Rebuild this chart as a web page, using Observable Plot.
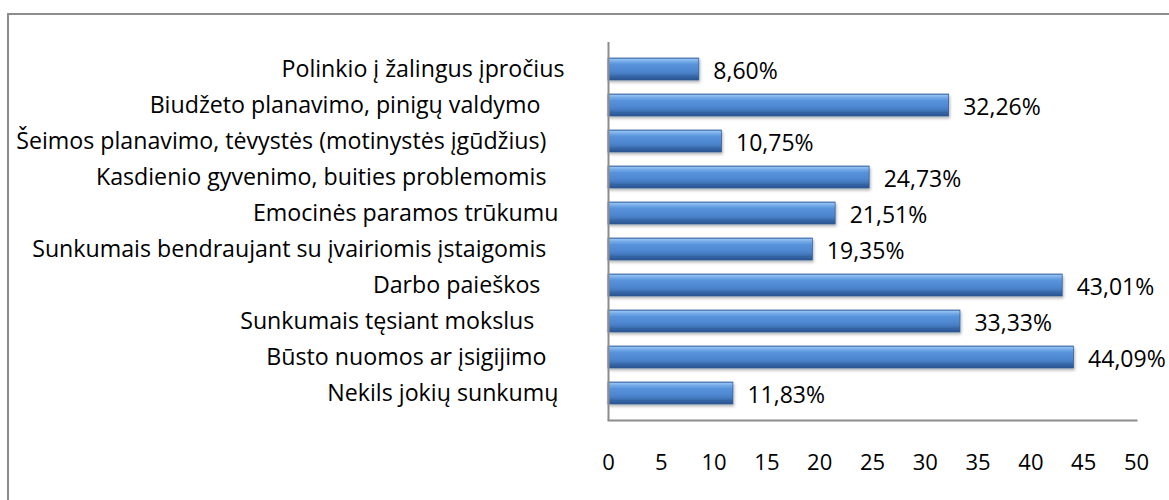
<!DOCTYPE html>
<html>
<head>
<meta charset="utf-8">
<script src="https://cdn.jsdelivr.net/npm/d3@7"></script>
<script src="https://cdn.jsdelivr.net/npm/@observablehq/plot@0.6"></script>
<style>
  html, body { margin: 0; padding: 0; background: #fff; }
  #wrap { position: relative; width: 1169px; height: 500px; overflow: hidden; }
  #border { position: absolute; left: 7px; top: 13px; width: 1200px; height: 600px;
            border-top: 2px solid #8c8c8c; border-left: 2px solid #8c8c8c; pointer-events: none; }
  svg text { font-family: "Open Sans", Lato, sans-serif; }
</style>
</head>
<body>
<div id="wrap"><div id="border"></div></div>
<script>
// Categories (top to bottom), with the trailing spaces of the original labels
const categories = [
  "Polinkio į žalingus įpročius",
  "Biudžeto planavimo, pinigų valdymo\u00a0\u00a0\u00a0\u00a0",
  "Šeimos planavimo, tėvystės (motinystės įgūdžius)\u00a0\u00a0\u00a0",
  "Kasdienio gyvenimo, buities problemomis\u00a0\u00a0\u00a0",
  "Emocinės paramos trūkumu\u00a0",
  "Sunkumais bendraujant su įvairiomis įstaigomis\u00a0\u00a0\u00a0",
  "Darbo paieškos\u00a0\u00a0\u00a0\u00a0",
  "Sunkumais tęsiant mokslus\u00a0\u00a0\u00a0\u00a0\u00a0",
  "Būsto nuomos ar įsigijimo\u00a0\u00a0\u00a0",
  "Nekils jokių sunkumų\u00a0"
];
const values = [8.60, 32.26, 10.75, 24.73, 21.51, 19.35, 43.01, 33.33, 44.09, 11.83];
const xTicks = [0, 5, 10, 15, 20, 25, 30, 35, 40, 45, 50];

const data = categories.map((c, i) => ({category: c, value: values[i]}));
const fmt = v => d3.format(".2f")(v).replace(".", ",") + "%";

const chart = Plot.plot({
  width: 1169,
  height: 500,
  marginLeft: 608,
  marginRight: 33,
  marginTop: 42,
  marginBottom: 80,
  style: {fontSize: "22px", fontFamily: "'Open Sans', Lato, sans-serif", color: "#000", background: "transparent"},
  x: {domain: [0, 50], ticks: xTicks, tickSize: 0, tickPadding: 34, label: null, tickFormat: d => String(d)},
  y: {domain: categories, padding: 0.39, tickSize: 0, tickPadding: 44, label: null},
  marks: [
    Plot.barX(data, {x: "value", y: "category", fill: "url(#barGrad)", stroke: "#2c5a94", strokeWidth: 0.7}),
    Plot.text(data, {x: "value", y: "category", text: d => fmt(d.value), textAnchor: "start", dx: 14, dy: 2, fill: "#000", fontSize: 23}),
    Plot.ruleX([0], {stroke: "#8c8c8c", strokeWidth: 2}),
    Plot.frame({anchor: "bottom", stroke: "#8c8c8c", strokeWidth: 2})
  ]
});

const svg = d3.select(chart);
// y-axis category labels slightly larger, as in the reference
svg.selectAll("g[aria-label='y-axis tick label'] text, g[aria-label='y-axis tick label']").style("font-size", "23.2px");
const defs = svg.insert("defs", ":first-child");
const g = defs.append("linearGradient").attr("id", "barGrad")
  .attr("x1", 0).attr("y1", 0).attr("x2", 0).attr("y2", 1);
[
  [0.00, "#4a80c6"],
  [0.06, "#93c0f2"],
  [0.18, "#6fa6e6"],
  [0.30, "#5893da"],
  [0.60, "#4c86cf"],
  [0.74, "#4378bd"],
  [0.82, "#3767a8"],
  [1.00, "#2b5590"]
].forEach(([o, c]) => g.append("stop").attr("offset", o).attr("stop-color", c));
const f = defs.append("filter").attr("id", "shadow").attr("x", "-5%").attr("y", "-20%").attr("width", "115%").attr("height", "160%");
f.append("feDropShadow").attr("dx", 1).attr("dy", 2).attr("stdDeviation", 1.5).attr("flood-color", "#000").attr("flood-opacity", 0.3);
svg.selectAll("rect").filter(function() { return this.getAttribute("fill") === "url(#barGrad)" || (this.parentNode && this.parentNode.getAttribute("fill") === "url(#barGrad)"); })
  .attr("filter", "url(#shadow)");

document.getElementById("wrap").insertBefore(chart, document.getElementById("border"));
</script>
</body>
</html>
